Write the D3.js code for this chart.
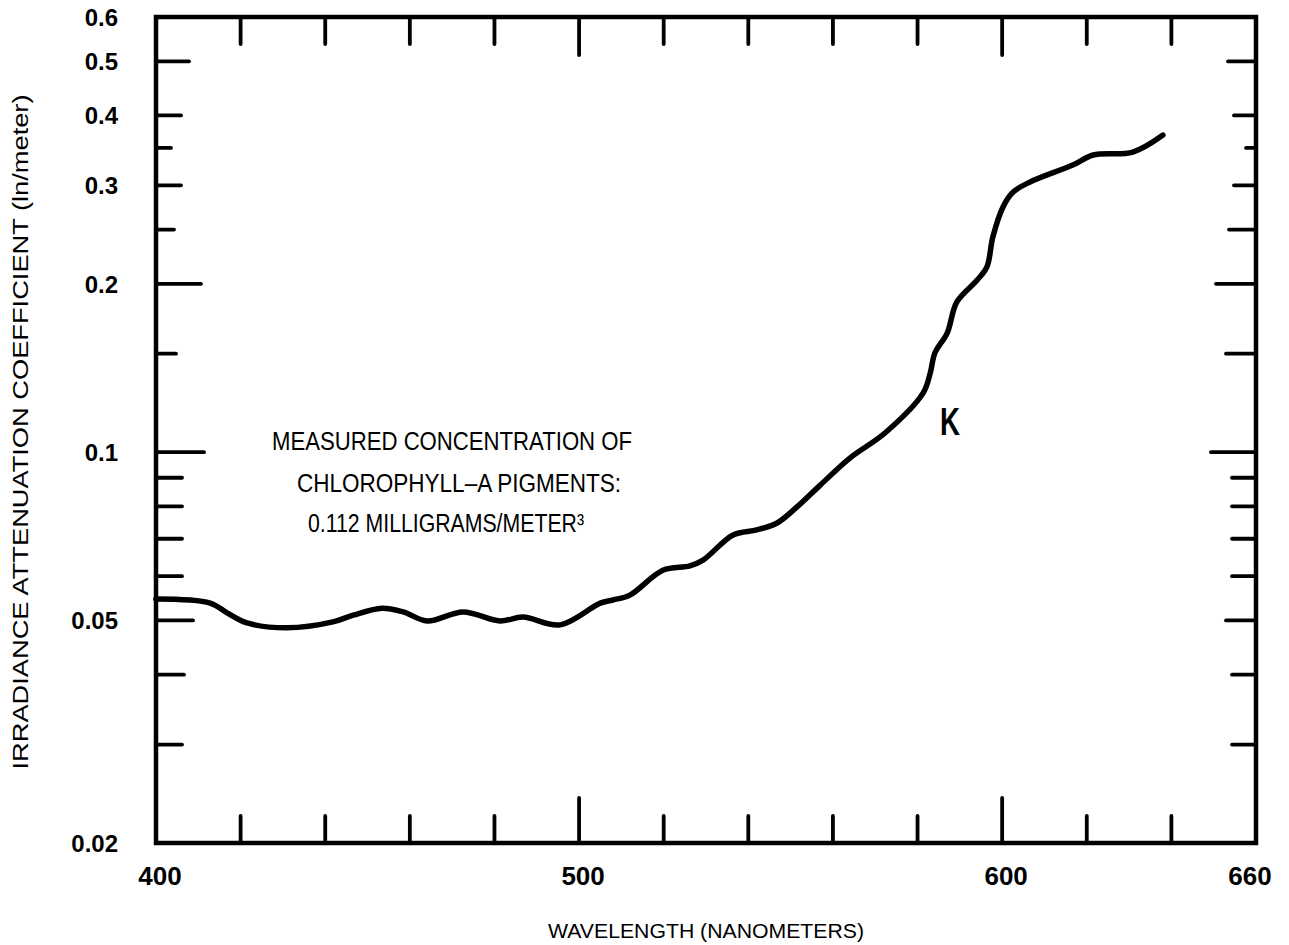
<!DOCTYPE html>
<html>
<head>
<meta charset="utf-8">
<script src="https://cdn.jsdelivr.net/npm/d3@7"></script>
<style>
  html, body { margin: 0; padding: 0; background: #fff; }
  svg { display: block; }
</style>
</head>
<body>
<svg id="chart" width="1289" height="945"></svg>
<script>
// Spectral irradiance attenuation coefficient K versus wavelength
const wavelength = [400, 412.8, 416.8, 421.5, 431, 441.8, 446.6, 453.4, 458.4, 464.1,
  472.6, 481.3, 486.7, 495.5, 505, 508, 512, 519.8, 526.2, 529.3,
  536.4, 542, 546.8, 551.5, 557, 564, 572.3, 581.3, 583, 584.1,
  587, 589.3, 594.1, 596.4, 597.8, 600.2, 602.6, 606.6, 616.7, 621.5,
  630.9, 638];
const kValue = [0.0546, 0.0537, 0.0516, 0.0495, 0.0485, 0.0497, 0.0511, 0.0526, 0.0518, 0.0499,
  0.0518, 0.0499, 0.0507, 0.0491, 0.0537, 0.0544, 0.0555, 0.0615, 0.0626, 0.0641,
  0.0711, 0.0726, 0.0747, 0.0798, 0.0873, 0.0976, 0.1082, 0.1275, 0.1385, 0.1504,
  0.1633, 0.1856, 0.2031, 0.2144, 0.2425, 0.2744, 0.2918, 0.3042, 0.3262, 0.3399,
  0.3441, 0.369];

const xTickValues = [420, 440, 460, 480, 500, 520, 540, 560, 580, 600, 620, 640];
const xLabelValues = [400, 500, 600, 660];
const yTickValues = [0.03, 0.04, 0.05, 0.06, 0.07, 0.08, 0.09, 0.1, 0.15, 0.2, 0.25, 0.3, 0.35, 0.4, 0.5];
const yLabelValues = [0.02, 0.05, 0.1, 0.2, 0.3, 0.4, 0.5, 0.6];
const noteLines = ["MEASURED CONCENTRATION OF", "CHLOROPHYLL\u2013A PIGMENTS:", "0.112 MILLIGRAMS/METER\u00B3"];

const svg = d3.select("#chart");
const x = d3.scaleLinear().domain([400, 660]).range([156, 1256]);
const y = d3.scaleLog().domain([0.02, 0.6]).range([843, 17]);

// tick lengths (px) by value, inside the frame
const leftLen = v => ({0.5: 33, 0.4: 25, 0.35: 15, 0.3: 25, 0.25: 18, 0.2: 45, 0.15: 20, 0.1: 48, 0.05: 37, 0.04: 28})[v] || 26;
const rightLen = v => ({0.5: 28, 0.4: 22, 0.35: 10, 0.3: 22, 0.25: 27, 0.2: 40, 0.15: 30, 0.1: 45, 0.05: 30})[v] || 24;
const bottomLen = v => (v === 500 || v === 600) ? 45 : 27;
const topLen = v => (v === 500 || v === 600) ? 38 : 27;

const ticks = svg.append("g").attr("stroke", "#000").attr("stroke-width", 3.8).attr("stroke-linecap", "round");
ticks.selectAll(".lt").data(yTickValues).join("line")
  .attr("x1", x(400)).attr("x2", d => x(400) + leftLen(d))
  .attr("y1", d => y(d)).attr("y2", d => y(d));
ticks.selectAll(".rt").data(yTickValues).join("line")
  .attr("x1", x(660)).attr("x2", d => x(660) - rightLen(d))
  .attr("y1", d => y(d)).attr("y2", d => y(d));
ticks.selectAll(".bt").data(xTickValues).join("line")
  .attr("x1", d => x(d)).attr("x2", d => x(d))
  .attr("y1", y(0.02)).attr("y2", d => y(0.02) - bottomLen(d));
ticks.selectAll(".tt").data(xTickValues).join("line")
  .attr("x1", d => x(d)).attr("x2", d => x(d))
  .attr("y1", y(0.6)).attr("y2", d => y(0.6) + topLen(d));

// frame
svg.append("rect")
  .attr("x", x(400)).attr("y", y(0.6))
  .attr("width", x(660) - x(400)).attr("height", y(0.02) - y(0.6))
  .attr("fill", "none").attr("stroke", "#000").attr("stroke-width", 4.5);

// tick labels
svg.append("g").selectAll("text").data(yLabelValues).join("text")
  .attr("x", 118).attr("y", d => y(d) + 9)
  .attr("text-anchor", "end")
  .attr("font-family", "Liberation Sans, Arial, sans-serif")
  .attr("font-weight", "bold").attr("font-size", 24)
  .text(d => d3.format("~g")(d));

svg.append("g").selectAll("text").data(xLabelValues).join("text")
  .attr("x", d => x(d) + (d === 660 ? -6 : 4)).attr("y", 885)
  .attr("text-anchor", "middle")
  .attr("font-family", "Liberation Sans, Arial, sans-serif")
  .attr("font-weight", "bold").attr("font-size", 26)
  .text(d => d);

// axis titles
svg.append("text")
  .attr("transform", "translate(28,432) rotate(-90)")
  .attr("text-anchor", "middle")
  .attr("font-family", "Liberation Sans, Arial, sans-serif")
  .attr("font-size", 22)
  .attr("textLength", 675).attr("lengthAdjust", "spacingAndGlyphs")
  .text("IRRADIANCE ATTENUATION COEFFICIENT (ln/meter)");

svg.append("text")
  .attr("x", 706).attr("y", 938)
  .attr("text-anchor", "middle")
  .attr("font-family", "Liberation Sans, Arial, sans-serif")
  .attr("font-size", 21)
  .attr("textLength", 316).attr("lengthAdjust", "spacingAndGlyphs")
  .text("WAVELENGTH (NANOMETERS)");

// K curve
const pts = wavelength.map((w, i) => [w, kValue[i]]);
svg.append("path")
  .datum(pts)
  .attr("fill", "none").attr("stroke", "#000").attr("stroke-width", 5.5)
  .attr("stroke-linecap", "round").attr("stroke-linejoin", "round")
  .attr("d", d3.line().x(d => x(d[0])).y(d => y(d[1])).curve(d3.curveCatmullRom.alpha(0.5)));

svg.append("text")
  .attr("x", 940).attr("y", 435)
  .attr("font-family", "Liberation Sans, Arial, sans-serif")
  .attr("font-weight", "bold").attr("font-size", 38)
  .attr("textLength", 20).attr("lengthAdjust", "spacingAndGlyphs")
  .text("K");

// annotation: narrow, tall lettering
const note = svg.append("g")
  .attr("font-family", "Liberation Sans, Arial, sans-serif")
  .attr("font-size", 21);
const noteStart = [272, 297, 308];
const noteWidth = [360, 324, 276];
const noteBase = [450, 492, 532];
noteLines.forEach((t, i) => {
  note.append("text")
    .attr("transform", `translate(${noteStart[i]},${noteBase[i]}) scale(1,1.22)`)
    .attr("textLength", noteWidth[i]).attr("lengthAdjust", "spacingAndGlyphs")
    .text(t);
});
</script>
</body>
</html>
